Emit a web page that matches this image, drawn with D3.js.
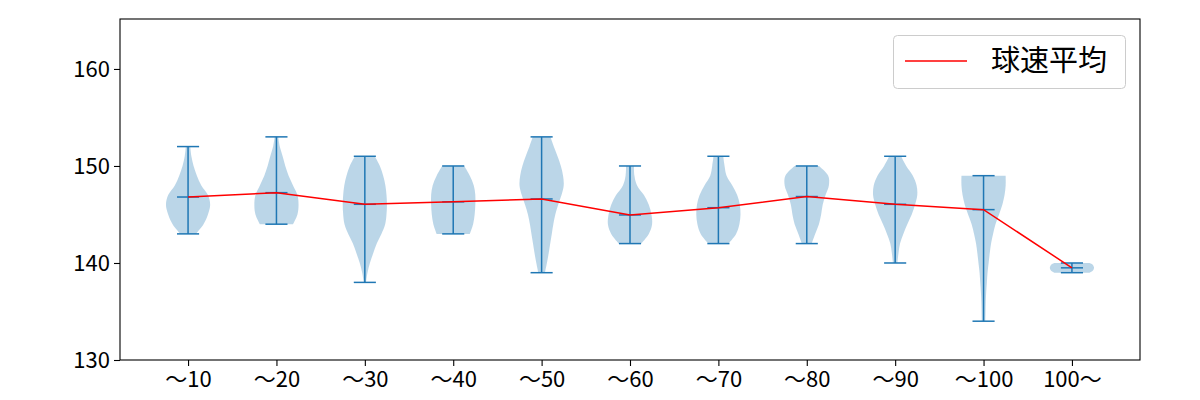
<!DOCTYPE html>
<html><head><meta charset="utf-8">
<script src="https://cdn.jsdelivr.net/npm/d3@7"></script>
<style>body{margin:0;background:#fff} text{font-family:"Noto Sans CJK JP","Noto Sans",sans-serif}</style>
</head><body><svg id="c" width="1200" height="400"></svg>
<script>
const categories = ["〜10","〜20","〜30","〜40","〜50","〜60","〜70","〜80","〜90","〜100","100〜"];
const mins  = [143,144,138,143,139,142,142,142,140,134,139];
const maxs  = [152,153,151,150,153,150,151,150,151,149,140];
const means = [146.8,147.25,146.05,146.3,146.6,144.95,145.7,146.85,146.05,145.5,139.5];
// relative half-widths, evenly spaced from min to max
const shapes = [
  [0.35,0.7,0.9,1.0,0.9,0.6,0.4,0.25,0.15,0.1],
  [0.75,0.95,1.0,0.95,0.75,0.55,0.4,0.28,0.15,0.08],
  [0.05,0.12,0.23,0.38,0.54,0.75,0.92,0.98,1.0,0.98,0.93,0.83,0.68,0.45],
  [0.75,0.9,0.97,1.0,1.0,0.93,0.75,0.5],
  [0.15,0.24,0.32,0.39,0.46,0.53,0.62,0.75,0.9,1.0,0.97,0.87,0.72,0.55,0.4],
  [0.5,0.85,1.0,0.97,0.85,0.63,0.32,0.2,0.18],
  [0.45,0.8,0.95,1.0,0.97,0.85,0.63,0.37,0.28,0.22],
  [0.22,0.38,0.55,0.65,0.72,0.85,1.0,0.97,0.55],
  [0.1,0.15,0.22,0.37,0.55,0.75,0.9,1.0,0.97,0.8,0.5,0.27],
  [0.08,0.09,0.1,0.12,0.15,0.18,0.23,0.28,0.34,0.43,0.54,0.7,0.85,0.95,1.0,1.0],
  [0.8,0.93,0.98,1.0,0.98,0.93,0.8]
];
const yTicks = [130,140,150,160];
const legendLabel = "球速平均";

const svg = d3.select("#c");
const L=120,R=1140,T=19,B=360;
const x = d3.scaleLinear().domain([0.23,11.77]).range([L,R]);
const y = d3.scaleLinear().domain([130,165.15]).range([B,T]);
const blue="#1f77b4";
const half = x(1.25)-x(1), cap = x(1.125)-x(1);

const g = svg.append("g");
shapes.forEach((sh,i)=>{
  const cx = x(i+1), n=sh.length;
  const pts = sh.map((w,k)=>({v: mins[i]+k*(maxs[i]-mins[i])/(n-1), w}));
  const area = d3.area().y(d=>y(d.v)).x0(d=>cx-d.w*half).x1(d=>cx+d.w*half).curve(d3.curveCatmullRom.alpha(0.5));
  g.append("path").attr("d",area(pts)).attr("fill",blue).attr("fill-opacity",0.3);
});
shapes.forEach((sh,i)=>{
  const cx=x(i+1);
  g.append("line").attr("x1",cx).attr("x2",cx).attr("y1",y(mins[i])).attr("y2",y(maxs[i])).attr("stroke",blue).attr("stroke-width",1.5);
  [mins[i],maxs[i],means[i]].forEach(v=>{
    g.append("line").attr("x1",cx-cap).attr("x2",cx+cap).attr("y1",y(v)).attr("y2",y(v)).attr("stroke",blue).attr("stroke-width",1.5);
  });
});
g.append("path").datum(means).attr("d",d3.line().x((d,i)=>x(i+1)).y(d=>y(d)))
  .attr("fill","none").attr("stroke","red").attr("stroke-width",1.5);

// axes
const ya = svg.append("g").attr("transform",`translate(${L},0)`)
  .call(d3.axisLeft(y).tickValues(yTicks).tickSize(6).tickPadding(4).tickFormat(d3.format("d")));
const xa = svg.append("g").attr("transform",`translate(0,${B})`)
  .call(d3.axisBottom(x).tickValues(d3.range(1,12)).tickSize(6).tickPadding(5).tickFormat(d=>categories[d-1]));
[ya,xa].forEach(a=>{a.select(".domain").remove(); a.selectAll("line").attr("stroke","#000").attr("stroke-width",1.1);
  a.selectAll("text").attr("fill","#000").style("font-size","22px").style("font-family",'"Noto Sans CJK JP",sans-serif');});
svg.append("rect").attr("x",L).attr("y",T).attr("width",R-L).attr("height",B-T).attr("fill","none").attr("stroke","#000").attr("stroke-width",1.1);

// legend
const lg = svg.append("g");
lg.append("rect").attr("x",893.5).attr("y",35.5).attr("width",232).attr("height",53).attr("rx",4)
  .attr("fill","#fff").attr("fill-opacity",0.8).attr("stroke","#ccc");
lg.append("line").attr("x1",905).attr("x2",967).attr("y1",61).attr("y2",61).attr("stroke","red").attr("stroke-width",1.5);
lg.append("text").attr("x",991).attr("y",71).text(legendLabel).style("font-size","29px").attr("fill","#000");
</script></body></html>
